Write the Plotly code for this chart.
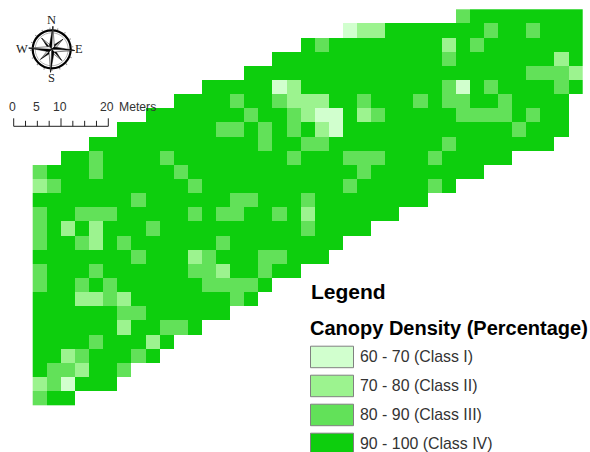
"""
Canopy density raster map with compass, scale bar and class legend
"""
import math

import plotly.graph_objects as go


# Raster extent per row (rows run top to bottom, columns left to right)
ROW_FIRST_COL = [30, 22, 19, 17, 15, 12, 10, 8, 6, 4, 2] + [0] * 17
ROW_LAST_COL = [38, 38, 38, 38, 38, 38, 37, 37, 37, 36, 33, 31, 29, 27,
                25, 23, 21, 20, 18, 16, 15, 13, 11, 9, 8, 6, 5, 2]

# Columns in each row that fall in a class other than Class IV
CLASS_I_COLS = {1: [22], 5: [17, 30], 7: [20, 21], 8: [21], 26: [2]}
CLASS_II_COLS = {
    1: [23, 24], 2: [29], 3: [37], 4: [38], 5: [18], 6: [18, 19, 20],
    7: [19, 23], 8: [20], 12: [0], 14: [19], 15: [2, 4], 16: [4], 17: [11],
    18: [13], 20: [3, 4, 6], 22: [6], 23: [8], 24: [2], 25: [3], 26: [0],
}
CLASS_III_COLS = {
    0: [30], 1: [32, 35], 2: [20, 31], 3: [29], 4: [35, 36, 37],
    5: [29, 32, 37], 6: [14, 17, 23, 27, 29, 30, 33],
    7: [15, 18, 24, 30, 31, 32, 33, 35], 8: [13, 14, 16, 18, 34],
    9: [16, 19, 20, 29], 10: [4, 9, 18, 22, 23, 24, 28], 11: [0, 4, 10, 23],
    12: [1, 11, 22, 28], 13: [7, 14, 15, 19],
    14: [0, 3, 4, 5, 11, 13, 14, 17], 15: [0, 8, 19], 16: [0, 3, 6, 13],
    17: [7, 12, 16, 17], 18: [0, 4, 11, 12, 16],
    19: [0, 3, 5, 12, 13, 14, 15], 20: [5, 14], 21: [6, 7], 22: [9, 10],
    23: [4], 24: [3, 7], 25: [1, 2, 6], 26: [1], 27: [0],
}

# Class midpoints used as cell values
CLASS_I_VALUE = 65
CLASS_II_VALUE = 75
CLASS_III_VALUE = 85
CLASS_IV_VALUE = 95

LEGEND_LABELS = ['60 - 70 (Class I)', '70 - 80 (Class II)',
                 '80 - 90 (Class III)', '90 - 100 (Class IV)']
LEGEND_COLORS = ['#D1FFCE', '#9CF38F', '#62E159', '#0DCE0D']

SCALE_TICKS_M = [0, 2.5, 5, 7.5, 10, 12.5, 15, 17.5, 20]
SCALE_LABELS_M = [0, 5, 10, 20]

# Coordinates are page pixels
PAGE_W = 590
PAGE_H = 452
CELL_X0 = 32.7
CELL_Y0 = 9.3
CELL_W = 14.1
CELL_H = 14.13
COMPASS_X = 51.7
COMPASS_Y = 49.3
SCALE_X0 = 13.7
SCALE_PX_PER_M = 4.73
SCALE_Y = 126.3
TEXT_FONT = 'Liberation Sans, Arial, sans-serif'


def build_grid():
    """Turn the row extents and class lists into a heatmap matrix."""
    grid = []
    for row, (first, last) in enumerate(zip(ROW_FIRST_COL, ROW_LAST_COL)):
        values = [None] * (max(ROW_LAST_COL) + 1)
        for col in range(first, last + 1):
            values[col] = CLASS_IV_VALUE
        for col in CLASS_III_COLS.get(row, []):
            values[col] = CLASS_III_VALUE
        for col in CLASS_II_COLS.get(row, []):
            values[col] = CLASS_II_VALUE
        for col in CLASS_I_COLS.get(row, []):
            values[col] = CLASS_I_VALUE
        grid.append(values)
    return grid


def stepped_colorscale():
    """Four equal colour steps across 60 - 100."""
    scale = []
    for i, color in enumerate(LEGEND_COLORS):
        scale.append([i / 4, color])
        scale.append([(i + 1) / 4, color])
    return scale


def polar(angle_deg, radius):
    """Compass point, angle clockwise from a slightly tilted north."""
    a = math.radians(angle_deg + 3)
    return COMPASS_X + radius * math.sin(a), COMPASS_Y - radius * math.cos(a)


def triangle(p1, p2, p3, fill, line='black'):
    path = 'M {} {} L {} {} L {} {} Z'.format(*p1, *p2, *p3)
    return dict(type='path', path=path, xref='x', yref='y', fillcolor=fill,
                line=dict(color=line, width=0.5))


def circle(radius, line_width, fill='rgba(0,0,0,0)', color='black', dash='solid'):
    return dict(type='circle', xref='x', yref='y',
                x0=COMPASS_X - radius, x1=COMPASS_X + radius,
                y0=COMPASS_Y - radius, y1=COMPASS_Y + radius,
                fillcolor=fill, line=dict(color=color, width=line_width, dash=dash))


def compass_shapes():
    shapes = [circle(21, 1.5, color='#888888', dash='1px,7px'),
              circle(19, 2.2, fill='white'),
              circle(16.5, 0.5, color='#666666')]
    for angle, tip, base in [(a, 15, 3) for a in range(45, 360, 90)] + \
                            [(a, 23, 3.6) for a in range(0, 360, 90)]:
        shapes.append(triangle((COMPASS_X, COMPASS_Y), polar(angle, tip),
                               polar(angle - 45, base), 'black'))
        shapes.append(triangle((COMPASS_X, COMPASS_Y), polar(angle, tip),
                               polar(angle + 45, base), 'white'))
    return shapes


def scale_bar_shapes():
    line = dict(color='#222222', width=1)
    shapes = [dict(type='line', xref='x', yref='y', line=line, y0=SCALE_Y, y1=SCALE_Y,
                   x0=SCALE_X0, x1=SCALE_X0 + SCALE_TICKS_M[-1] * SCALE_PX_PER_M)]
    for metres in SCALE_TICKS_M:
        x = SCALE_X0 + metres * SCALE_PX_PER_M
        top = SCALE_Y - 8 if metres % 10 == 0 else SCALE_Y - 5.5
        shapes.append(dict(type='line', xref='x', yref='y', line=line,
                           x0=x, x1=x, y0=top, y1=SCALE_Y))
    return shapes


def legend_shapes():
    shapes = []
    for i, color in enumerate(LEGEND_COLORS):
        top = 346.2 + i * 29
        shapes.append(dict(type='rect', xref='x', yref='y', x0=310.5, x1=353.5,
                           y0=top, y1=top + 21.5, fillcolor=color,
                           line=dict(color='#808080', width=1)))
    return shapes


def page_text(x, y, text, size, color='#333333', bold=False, anchor='left', family=TEXT_FONT):
    if bold:
        text = f'<b>{text}</b>'
    return dict(x=x, y=y, xref='x', yref='y', text=text, showarrow=False,
                xanchor=anchor, yanchor='middle', borderpad=0, borderwidth=0,
                font=dict(size=size, color=color, family=family))


annotations = [
    page_text(310.5, 291.5, 'Legend', 21, color='black', bold=True),
    page_text(310, 328, 'Canopy Density (Percentage)', 20, color='black', bold=True),
]
for i, label in enumerate(LEGEND_LABELS):
    annotations.append(page_text(360, 356.5 + i * 29, label, 15.9))
for metres in SCALE_LABELS_M:
    annotations.append(page_text(SCALE_X0 + metres * SCALE_PX_PER_M - 1, 106.5,
                                 str(metres), 12.2, anchor='center'))
annotations.append(page_text(119, 106.5, 'Meters', 12.2))
for text, dx, dy in [('N', 0, -29.5), ('S', 0, 29), ('W', -30, 0), ('E', 27.5, 0)]:
    annotations.append(page_text(COMPASS_X + dx, COMPASS_Y + dy, text, 12.5, color='#222222',
                                 anchor='center', family='Liberation Serif, serif'))

fig = go.Figure(go.Heatmap(
    z=build_grid(),
    x0=CELL_X0 + CELL_W / 2, dx=CELL_W,
    y0=CELL_Y0 + CELL_H / 2, dy=CELL_H,
    zmin=60, zmax=100,
    colorscale=stepped_colorscale(),
    showscale=False,
    hoverongaps=False,
))
fig.update_layout(
    width=PAGE_W,
    height=PAGE_H,
    margin=dict(l=0, r=0, t=0, b=0),
    paper_bgcolor='white',
    plot_bgcolor='white',
    shapes=compass_shapes() + scale_bar_shapes() + legend_shapes(),
    annotations=annotations,
    showlegend=False,
)
fig.update_xaxes(range=[0, PAGE_W], visible=False)
fig.update_yaxes(range=[PAGE_H, 0], visible=False)

# Drop the default body margin so figure pixels are page pixels
fig.write_html("out.html", config={'displayModeBar': False},
               post_script="document.body.style.margin = '0';")
